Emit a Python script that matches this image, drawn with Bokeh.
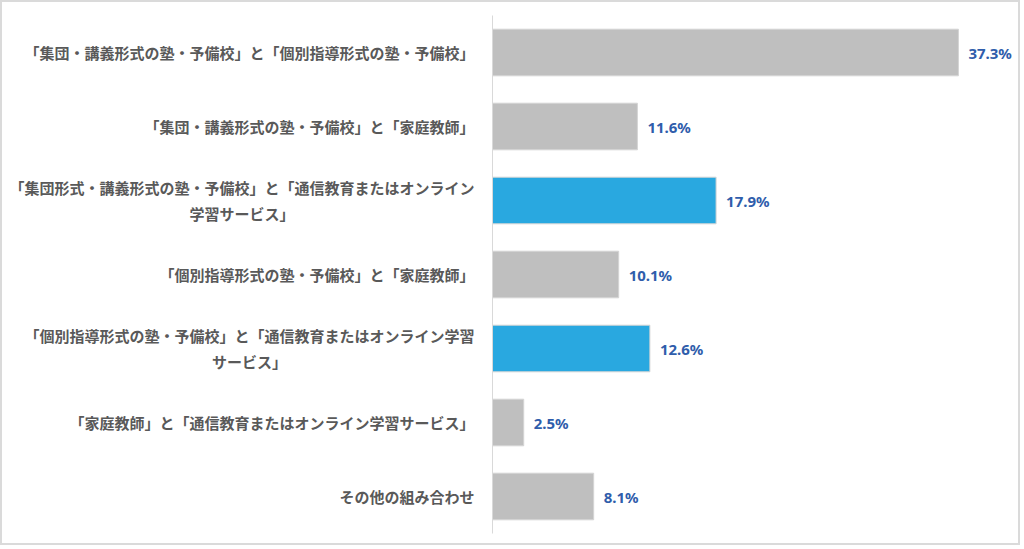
from bokeh.plotting import figure
from bokeh.models import FactorRange, Range1d, ColumnDataSource
from bokeh.core.properties import value
from bokeh.embed import file_html
from bokeh.resources import INLINE

# trailing ideographic spaces centre the wrapped second line under the first
PAD3 = "\u3000" * 12 + "\u2002"
PAD5 = "\u3000" * 13
categories = [
    "「集団・講義形式の塾・予備校」と「個別指導形式の塾・予備校」",
    "「集団・講義形式の塾・予備校」と「家庭教師」",
    "「集団形式・講義形式の塾・予備校」と「通信教育またはオンライン\n学習サービス」" + PAD3,
    "「個別指導形式の塾・予備校」と「家庭教師」",
    "「個別指導形式の塾・予備校」と「通信教育またはオンライン学習\nサービス」" + PAD5,
    "「家庭教師」と「通信教育またはオンライン学習サービス」",
    "その他の組み合わせ",
]
values = [37.3, 11.6, 17.9, 10.1, 12.6, 2.5, 8.1]
highlight = [False, False, True, False, True, False, False]
value_labels = ["37.3%", "11.6%", "17.9%", "10.1%", "12.6%", "2.5%", "8.1%"]

GRAY = "#bfbfbf"
BLUE = "#29a8e0"
colors = [BLUE if h else GRAY for h in highlight]

src = ColumnDataSource(dict(cat=categories, val=values, color=colors, lab=value_labels))

p = figure(
    width=1020, height=545,
    y_range=FactorRange(factors=list(reversed(categories)), range_padding=0),
    x_range=Range1d(0, 42.27),
    output_backend="svg", toolbar_location=None,
    min_border_left=490, min_border_right=2, min_border_top=13, min_border_bottom=14,
)
p.styles = {"border": "2px solid #dadada"}
p.outline_line_color = None
p.grid.visible = False
p.xaxis.visible = False

p.hbar(y="cat", right="val", left=0, height=0.63, source=src,
       fill_color="color", line_color="#d4d4d4", line_width=1)

p.text(x="val", y="cat", text="lab", source=src, x_offset=10,
       text_baseline="middle", text_align="left",
       text_font=value("Noto Sans"), text_font_style="bold",
       text_font_size="15px", text_color="#2f5dab")

ya = p.yaxis[0]
ya.axis_line_color = "#d9d9d9"
ya.axis_line_width = 1
ya.major_tick_line_color = None
ya.minor_tick_line_color = None
ya.major_tick_out = 0
ya.major_tick_in = 0
ya.major_label_standoff = 18
ya.major_label_text_font = "Noto Sans CJK JP"
ya.major_label_text_font_style = "bold"
ya.major_label_text_font_size = "15px"
ya.major_label_text_color = "#595959"

open("out.html", "w").write(file_html(p, INLINE))
